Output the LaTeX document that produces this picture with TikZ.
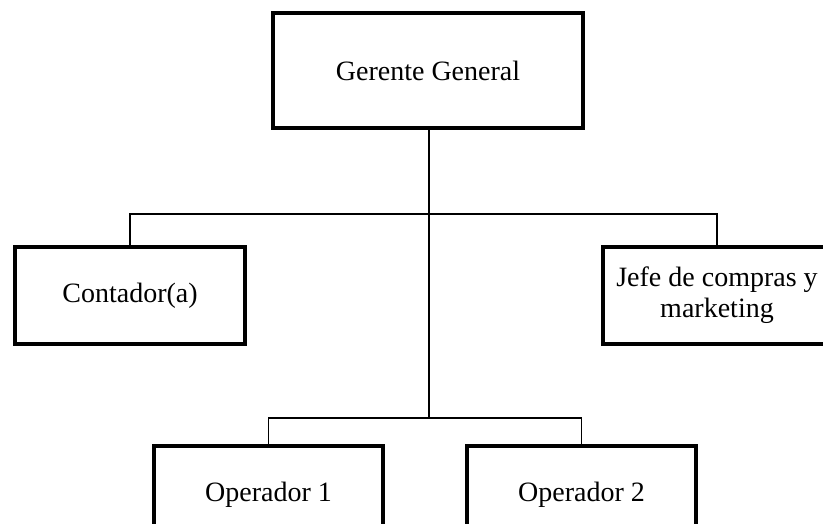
\documentclass[tikz,border=0pt]{standalone}
\usepackage{fontspec}
\setmainfont{Liberation Serif}
\usepackage{tikz}
\usetikzlibrary{positioning,calc}

\begin{document}
\begin{tikzpicture}[
  x=1pt,y=1pt,
  puesto/.style={rectangle,draw=black,line width=3.5pt,fill=white,minimum width=230pt,minimum height=97pt,align=center,inner sep=0pt,font=\fontsize{28}{31}\selectfont},
  jefatura/.style={puesto,minimum width=310pt,minimum height=115pt},
  tronco/.style={draw=black,line width=2.5pt},
  rama/.style={draw=black,line width=1.5pt}
]
\clip (0,0) rectangle (823,-524);

% Boxes
\node[jefatura] (gg)   at (428,-70.5)   {Gerente General};
\node[puesto]   (cont) at (130,-295.5)  {Contador(a)};
\node[puesto,minimum width=228pt] (jefe) at (717,-295.5) {Jefe de compras y\\marketing};
\node[puesto,minimum width=229pt] (op1)  at (268.5,-494.5) {Operador 1};
\node[puesto,minimum width=229pt] (op2)  at (581.5,-494.5) {Operador 2};

% Junction points
\coordinate (nivel1) at (429,-214);
\coordinate (nivel2) at (429,-418);

% Connectors
\draw[rama] (cont.north) |- (nivel1) -| (jefe.north);
\draw[rama] (op1.north) |- (nivel2) -| (op2.north);
\draw[tronco] (gg.south -| nivel2) -- (nivel2);

\end{tikzpicture}
\end{document}
